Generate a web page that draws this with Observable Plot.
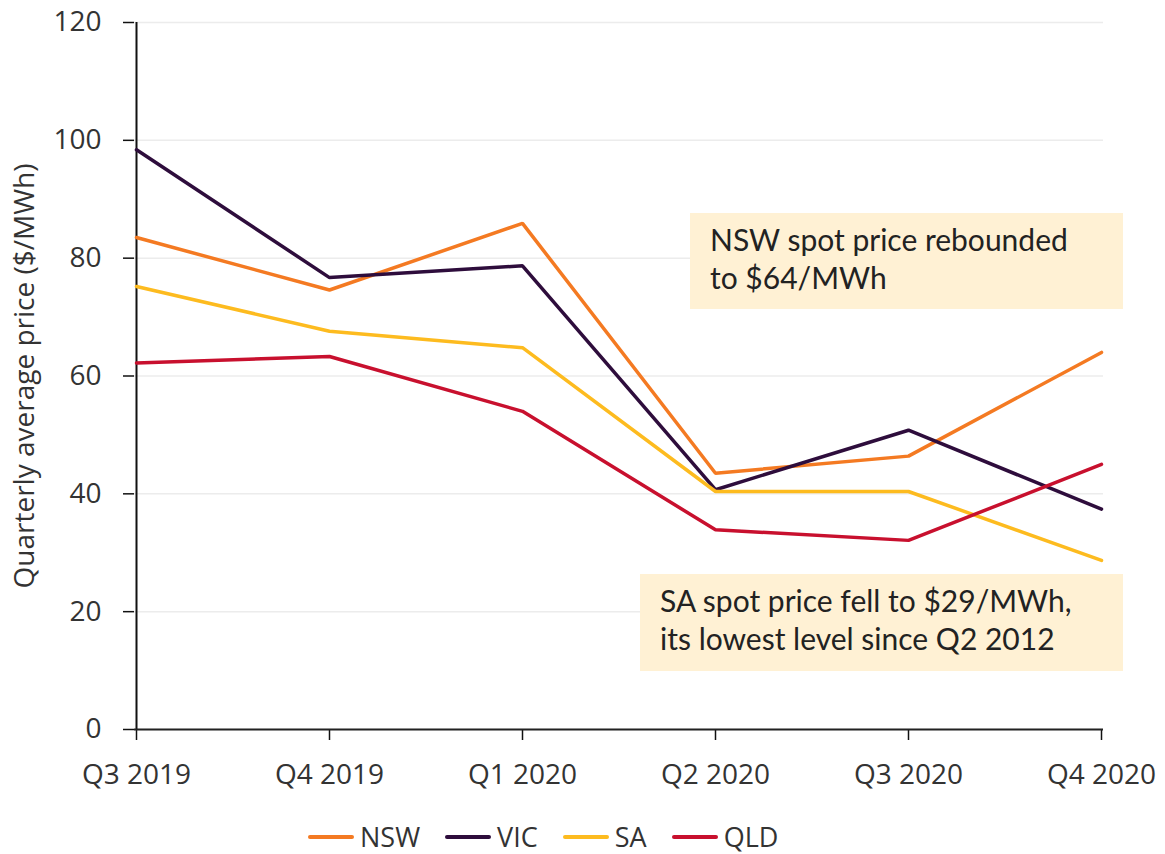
<!DOCTYPE html>
<html>
<head>
<meta charset="utf-8">
<script src="https://cdn.jsdelivr.net/npm/d3@7"></script>
<script src="https://cdn.jsdelivr.net/npm/@observablehq/plot@0.6"></script>
<style>
  html, body { margin: 0; padding: 0; background: #ffffff; }
  #wrap { position: relative; width: 1165px; height: 854px; font-family: "Open Sans", sans-serif; }
  #chart { position: absolute; left: 0; top: 0; }
  .note { position: absolute; background: #fff1d4; color: #222; font-family: Lato, "Open Sans", sans-serif;
          font-size: 30px; line-height: 37.5px; padding: 8px 0 0 20px; box-sizing: border-box; white-space: nowrap; }
  #legend { position: absolute; left: 308px; top: 822px; display: flex; align-items: center;
            font-family: "Open Sans", sans-serif; font-size: 27px; line-height: 30px; color: #333; }
  .item { display: flex; align-items: center; margin-right: 25px; }
  .sw { width: 46px; height: 4px; border-radius: 2px; margin-right: 6px; }
</style>
</head>
<body>
<div id="wrap">
  <div id="chart"></div>
  <div class="note" id="note1" style="left:690px; top:213px; width:433px; height:96px;"></div>
  <div class="note" id="note2" style="left:640px; top:574px; width:483px; height:97px;"></div>
  <div id="legend"></div>
</div>
<script>
const quarters = ["Q3 2019", "Q4 2019", "Q1 2020", "Q2 2020", "Q3 2020", "Q4 2020"];
const regions = ["NSW", "VIC", "SA", "QLD"];
const nsw = [83.5, 74.6, 85.9, 43.5, 46.4, 64.0];
const vic = [98.4, 76.7, 78.7, 40.7, 50.8, 37.4];
const sa  = [75.2, 67.6, 64.8, 40.4, 40.4, 28.7];
const qld = [62.2, 63.3, 54.0, 33.9, 32.1, 45.0];
const colors = ["#f47a22", "#2e0d3c", "#fdbb1f", "#c8102e"];
const yTicks = [0, 20, 40, 60, 80, 100, 120];
const yLabel = "Quarterly average price ($/MWh)";
const notes = [
  ["NSW spot price rebounded", "to $64/MWh"],
  ["SA spot price fell to $29/MWh,", "its lowest level since Q2 2012"]
];

const series = [nsw, vic, sa, qld];
const data = [];
regions.forEach((r, i) => quarters.forEach((q, j) => data.push({region: r, quarter: q, value: series[i][j]})));

const chart = Plot.plot({
  width: 1165,
  height: 800,
  marginLeft: 134,
  marginRight: 62,
  marginTop: 22,
  marginBottom: 71,
  style: { fontFamily: "'Open Sans', sans-serif", fontSize: "28px", color: "#333", background: "transparent" },
  x: { type: "point", domain: quarters, padding: 0, label: null },
  y: { domain: [0, 120], label: null },
  color: { domain: regions, range: colors },
  marks: [
    Plot.gridY(yTicks, { stroke: "#ececec", strokeOpacity: 1, strokeWidth: 1.5 }),
    Plot.axisY(yTicks, { tickSize: 11, tickPadding: 22, stroke: "#111", strokeWidth: 1.5, fill: "#333",
                         label: yLabel, labelAnchor: "center", labelArrow: false, labelOffset: 120 }),
    Plot.axisX({ tickSize: 11, tickPadding: 24, stroke: "#111", strokeWidth: 1.5, fill: "#333", label: null }),
    Plot.ruleX([quarters[0]], { stroke: "#111", strokeWidth: 2 }),
    Plot.ruleY([0], { stroke: "#222", strokeWidth: 2 }),
    Plot.line(data, { x: "quarter", y: "value", z: "region", stroke: "region", strokeWidth: 3.5, strokeLinejoin: "miter" })
  ]
});
document.getElementById("chart").appendChild(chart);

document.getElementById("note1").innerHTML = notes[0].join("<br>");
document.getElementById("note2").innerHTML = notes[1].join("<br>");

const legend = document.getElementById("legend");
regions.forEach((r, i) => {
  const it = document.createElement("div");
  it.className = "item";
  const sw = document.createElement("div");
  sw.className = "sw";
  sw.style.background = colors[i];
  const t = document.createElement("span");
  t.textContent = r;
  it.appendChild(sw); it.appendChild(t);
  legend.appendChild(it);
});
</script>
</body>
</html>
